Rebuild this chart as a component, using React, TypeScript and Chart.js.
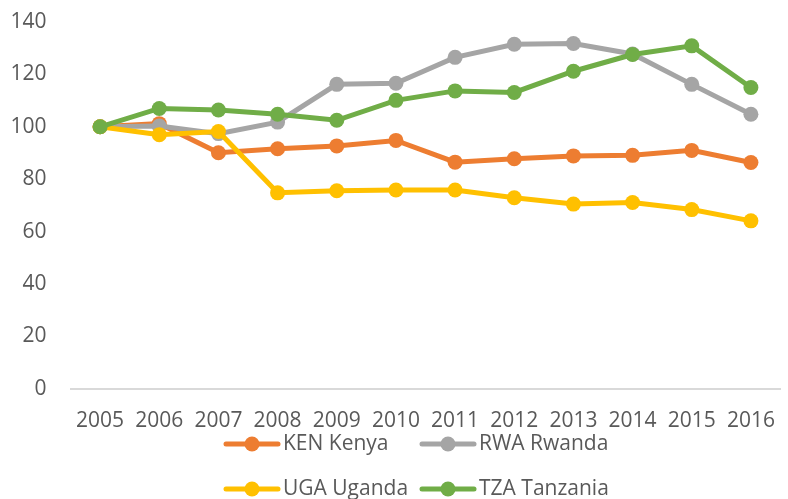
import React, { useEffect, useRef } from "react";
import { Chart, registerables } from "chart.js";

Chart.register(...registerables);

const years = ["2005", "2006", "2007", "2008", "2009", "2010", "2011", "2012", "2013", "2014", "2015", "2016"];
const kenya = [100, 101.2, 90.1, 91.6, 92.7, 94.8, 86.5, 87.8, 88.9, 89.1, 91.0, 86.4];
const rwanda = [100, 100.3, 97.4, 101.8, 116.2, 116.6, 126.5, 131.5, 131.8, 127.8, 116.2, 104.8];
const uganda = [100, 97.0, 98.2, 74.8, 75.6, 75.9, 75.9, 72.9, 70.5, 71.1, 68.4, 64.1];
const tanzania = [100, 107.0, 106.4, 104.8, 102.5, 110.1, 113.7, 113.1, 121.2, 127.6, 130.9, 115.0];
const seriesNames = ["KEN Kenya", "RWA Rwanda", "UGA Uganda", "TZA Tanzania"];
const seriesColors = ["#ED7D31", "#A5A5A5", "#FFC000", "#70AD47"];

const FONT = "'Open Sans', 'DejaVu Sans', sans-serif";
const TEXT = "#595959";

const gridLegend = {
  id: "gridLegend",
  afterDraw(chart: any) {
    const ctx = chart.ctx;
    const colX = [224, 420];
    const rowY = [444, 489];
    ctx.save();
    chart.data.datasets.forEach((ds: any, i: number) => {
      const x0 = colX[i % 2];
      const y = rowY[Math.floor(i / 2)];
      ctx.strokeStyle = ds.borderColor;
      ctx.lineWidth = 5;
      ctx.lineCap = "round";
      ctx.beginPath();
      ctx.moveTo(x0 + 2, y);
      ctx.lineTo(x0 + 54, y);
      ctx.stroke();
      ctx.fillStyle = ds.borderColor;
      ctx.beginPath();
      ctx.arc(x0 + 28, y, 7.5, 0, Math.PI * 2);
      ctx.fill();
      ctx.fillStyle = TEXT;
      ctx.font = `21px ${FONT}`;
      ctx.textBaseline = "middle";
      ctx.textAlign = "left";
      ctx.fillText(ds.label, x0 + 59, y);
    });
    ctx.restore();
  },
};

export default function App() {
  const ref = useRef<HTMLCanvasElement | null>(null);
  useEffect(() => {
    if (!ref.current) return;
    const values = [kenya, rwanda, uganda, tanzania];
    const order = [4, 3, 2, 1];
    const chart = new Chart(ref.current, {
      type: "line",
      data: {
        labels: years,
        datasets: values.map((v, i) => ({
          label: seriesNames[i],
          data: v,
          borderColor: seriesColors[i],
          backgroundColor: seriesColors[i],
          pointBackgroundColor: seriesColors[i],
          pointBorderColor: seriesColors[i],
          borderWidth: 5,
          pointRadius: 7.5,
          pointBorderWidth: 0,
          tension: 0,
          order: order[i],
        })),
      },
      options: {
        animation: false,
        responsive: false,
        maintainAspectRatio: false,
        layout: { padding: { top: 22, left: -13.5, right: 0, bottom: 45 } },
        plugins: { legend: { display: false }, tooltip: { enabled: false } },
        scales: {
          x: {
            offset: true,
            grid: { display: false, drawTicks: false },
            border: { display: true, color: "#D9D9D9", width: 2 },
            ticks: { color: TEXT, font: { family: FONT, size: 21 }, padding: 20, maxRotation: 0, autoSkip: false },
            afterFit: (s: any) => {
              s.paddingLeft = 0;
              s.paddingRight = 0;
            },
          },
          y: {
            min: 0,
            max: 140,
            grid: { display: false, drawTicks: false },
            border: { display: false },
            ticks: { stepSize: 20, color: TEXT, font: { family: FONT, size: 21 }, padding: 24 },
            afterFit: (s: any) => {
              s.paddingTop = 0;
              s.paddingBottom = 0;
            },
          },
        },
      },
      plugins: [gridLegend],
    });
    return () => chart.destroy();
  }, []);
  return (
    <div style={{ position: "fixed", left: 0, top: 0, width: 788, height: 499, background: "#fff" }}>
      <canvas ref={ref} width={788} height={499} style={{ width: 788, height: 499, display: "block" }} />
    </div>
  );
}
